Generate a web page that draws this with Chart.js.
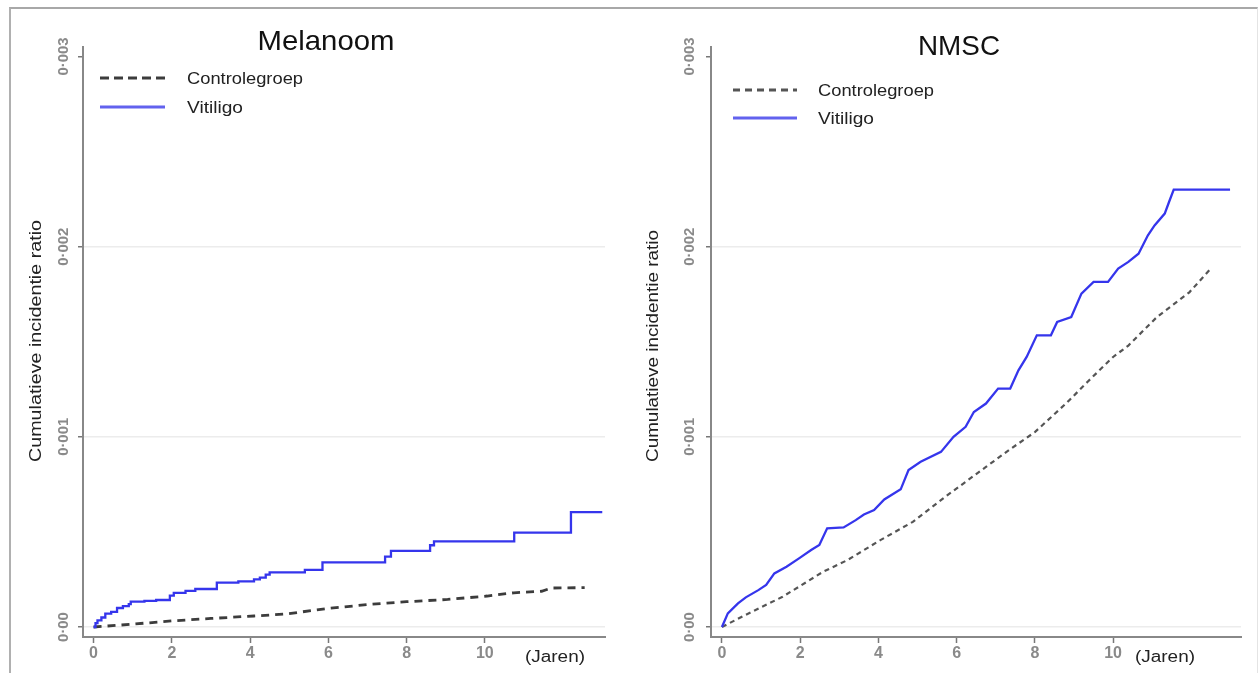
<!DOCTYPE html>
<html>
<head>
<meta charset="utf-8">
<script src="https://cdn.jsdelivr.net/npm/chart.js@4/dist/chart.umd.min.js"></script>
<style>
  html, body { margin: 0; padding: 0; background: #fff; }
  body { width: 1258px; height: 673px; position: relative; overflow: hidden; }
  #frame { position: absolute; left: 9px; top: 7px; width: 1246px; height: 680px;
           border-top: 2px solid #a8a8a8; border-left: 2px solid #b0b0b0; border-right: 1px solid #e4e4e4; }
  canvas { position: absolute; top: 0; }
  #c1 { left: 0; }
  #c2 { left: 629px; }
</style>
</head>
<body>
<div id="frame"></div>
<canvas id="c1" width="629" height="673"></canvas>
<canvas id="c2" width="629" height="673"></canvas>
<script>
// ---------------- data ----------------
const panelTitles = ["Melanoom", "NMSC"];
const seriesNames = ["Controlegroep", "Vitiligo"];
const xTickValues = [0, 2, 4, 6, 8, 10];
const xTickLabels = ["0", "2", "4", "6", "8", "10"];
const yTickValues = [0, 0.001, 0.002, 0.003];
const yTickLabels = ["0\u00B700", "0\u00B7001", "0\u00B7002", "0\u00B7003"];
const xUnitLabel = "(Jaren)";
const yAxisTitle = "Cumulatieve incidentie ratio";

// Melanoom - Vitiligo (step function)
const melVitX = [0, 0.05, 0.1, 0.2, 0.3, 0.45, 0.6, 0.75, 0.9, 0.95, 1.3, 1.6, 1.95, 2.05, 2.35, 2.6, 3.15, 3.7, 4.1, 4.25, 4.4, 4.5, 5.4, 5.85, 7.45, 7.6, 8.6, 8.7, 10.75, 12.2, 13.0];
const melVitY = [0, 0.00002, 0.000035, 0.00005, 0.00007, 0.00008, 0.0001, 0.00011, 0.00012, 0.000133, 0.000137, 0.000142, 0.000165, 0.00018, 0.00019, 0.0002, 0.000233, 0.00024, 0.00025, 0.00026, 0.000275, 0.000287, 0.0003, 0.00034, 0.00037, 0.0004, 0.00043, 0.00045, 0.000496, 0.000604, 0.000604];
// Melanoom - Controlegroep
const melCtrlX = [0, 1, 2.05, 3, 4.1, 4.9, 6, 7, 8, 9.05, 10.06, 10.74, 11.45, 11.7, 12.55];
const melCtrlY = [0, 0.000015, 0.000033, 0.000045, 0.000058, 0.000068, 0.000098, 0.000118, 0.000133, 0.000145, 0.000163, 0.00018, 0.000188, 0.000205, 0.000207];
// NMSC - Vitiligo
const nmscVitX = [0, 0.15, 0.41, 0.61, 0.93, 1.13, 1.34, 1.65, 1.97, 2.28, 2.49, 2.69, 3.11, 3.42, 3.63, 3.89, 4.15, 4.57, 4.77, 5.08, 5.6, 5.92, 6.23, 6.44, 6.75, 7.06, 7.37, 7.58, 7.79, 8.05, 8.41, 8.57, 8.93, 9.19, 9.5, 9.87, 10.13, 10.39, 10.65, 10.89, 11.06, 11.32, 11.43, 11.55, 12.99];
const nmscVitY = [0, 0.000072, 0.000124, 0.000156, 0.000194, 0.000221, 0.000282, 0.000317, 0.000361, 0.000405, 0.000431, 0.000519, 0.000524, 0.000562, 0.000592, 0.000615, 0.000671, 0.000724, 0.000825, 0.000869, 0.000921, 0.001, 0.001053, 0.001131, 0.001175, 0.001254, 0.001254, 0.00135, 0.00142, 0.001534, 0.001534, 0.001604, 0.00163, 0.001753, 0.001815, 0.001815, 0.001885, 0.00192, 0.001963, 0.00206, 0.002112, 0.002174, 0.002235, 0.0023, 0.0023];
// NMSC - Controlegroep
const nmscCtrlX = [0, 0.51, 1.55, 2.59, 3.21, 4.05, 4.88, 5.71, 6.75, 7.37, 8.0, 8.82, 9.35, 10.0, 10.39, 11.12, 11.95, 12.52];
const nmscCtrlY = [0, 0.000054, 0.000159, 0.000291, 0.000352, 0.000457, 0.000553, 0.000685, 0.000842, 0.000935, 0.001025, 0.00118, 0.00129, 0.00142, 0.00148, 0.00163, 0.00176, 0.00189];

// ---------------- helpers ----------------
const FONT = "'Liberation Sans', Arial, sans-serif";
function pts(xs, ys) { return xs.map((x, i) => ({ x: x, y: ys[i] })); }

function fitText(ctx, text, x, y, size, targetW, align, baseline, color, rot, weight) {
  ctx.save();
  ctx.font = (weight || "") + " " + size + "px " + FONT;
  const w = ctx.measureText(text).width;
  const s = targetW / w;
  ctx.translate(x, y);
  if (rot) ctx.rotate(rot);
  ctx.scale(s, 1);
  ctx.textAlign = align;
  ctx.textBaseline = baseline;
  ctx.fillStyle = color;
  ctx.fillText(text, 0, 0);
  ctx.restore();
}

function makePanel(canvasId, L) {
  const decor = {
    id: "decor" + canvasId,
    afterDraw(chart) {
      const ctx = chart.ctx;
      const ys = chart.scales.y;
      // title
      fitText(ctx, L.title, L.titleX, L.titleBase, 28, L.titleW, "center", "alphabetic", "#111");
      // legend
      ctx.save();
      ctx.strokeStyle = L.ctrlColor; ctx.lineWidth = 3; ctx.setLineDash(L.legDash);
      ctx.beginPath(); ctx.moveTo(L.legX0, L.legY1); ctx.lineTo(L.legX1, L.legY1); ctx.stroke();
      ctx.setLineDash([]); ctx.strokeStyle = "#6262ee"; ctx.lineWidth = 3;
      ctx.beginPath(); ctx.moveTo(L.legX0, L.legY2); ctx.lineTo(L.legX1, L.legY2); ctx.stroke();
      ctx.restore();
      fitText(ctx, seriesNames[0], L.legTX, L.legB1, 17, 116, "left", "alphabetic", "#222");
      fitText(ctx, seriesNames[1], L.legTX, L.legB2, 17, 56, "left", "alphabetic", "#222");
      // y tick labels (rotated)
      ctx.save();
      ctx.font = "bold 15px " + FONT;
      const ref = ctx.measureText(yTickLabels[3]).width;
      const widths = yTickLabels.map(t => ctx.measureText(t).width);
      ctx.restore();
      yTickValues.forEach((v, i) => {
        const py = ys.getPixelForValue(v);
        fitText(ctx, yTickLabels[i], L.yLabX, py, 15, 38 * widths[i] / ref, "center", "middle", "#8a8a8a", -Math.PI / 2, "bold");
      });
      // y axis title
      fitText(ctx, yAxisTitle, L.yTitleX, L.yTitleY, 16, L.yTitleW, "center", "middle", "#222", -Math.PI / 2);
      // unit label
      fitText(ctx, xUnitLabel, L.unitX, L.unitBase, 16, 60, "left", "alphabetic", "#222");
    }
  };

  return new Chart(document.getElementById(canvasId), {
    type: "line",
    data: {
      datasets: [
        { label: seriesNames[0], data: pts(L.ctrlX, L.ctrlY), borderColor: L.ctrlColor, borderWidth: L.ctrlWidth,
          borderDash: L.dash, pointRadius: 0, fill: false, tension: 0, order: 2 },
        { label: seriesNames[1], data: pts(L.vitX, L.vitY), borderColor: "#3535ec", borderWidth: 2.3,
          stepped: L.stepped, pointRadius: 0, fill: false, tension: 0, order: 1 }
      ]
    },
    options: {
      responsive: false, animation: false, events: [],
      layout: { padding: { left: 10, right: L.padRight, top: 47, bottom: 0 } },
      plugins: { legend: { display: false }, tooltip: { enabled: false }, title: { display: false } },
      scales: {
        x: {
          type: "linear", min: L.xMin, max: L.xMax,
          afterBuildTicks: s => { s.ticks = xTickValues.map(v => ({ value: v })); },
          afterFit: s => { s.height = 36; },
          ticks: { callback: (v) => { const i = xTickValues.indexOf(v); return i >= 0 ? xTickLabels[i] : ""; },
                   font: { family: FONT, size: 16, weight: "bold" }, color: "#8a8a8a", padding: 1, maxRotation: 0, autoSkip: false },
          grid: { drawOnChartArea: false, drawTicks: true, tickLength: 6, tickColor: "#777", tickWidth: 1.5 },
          border: { display: true, color: "#888", width: 2 }
        },
        y: {
          type: "linear", min: -0.0000525, max: 0.00305,
          afterBuildTicks: s => { s.ticks = yTickValues.map(v => ({ value: v })); },
          afterFit: s => { s.width = L.yWidth; },
          ticks: { display: false },
          grid: { color: c => (c.tick && c.tick.value === 0.003) ? "rgba(0,0,0,0)" : "#ececec",
                  lineWidth: 1.5, drawTicks: true, tickLength: 5, tickColor: "#777", tickWidth: 1.5 },
          border: { display: true, color: "#888", width: 2 }
        }
      }
    },
    plugins: [decor]
  });
}

makePanel("c1", {
  title: panelTitles[0], titleX: 326, titleBase: 50, titleW: 137,
  ctrlX: melCtrlX, ctrlY: melCtrlY, vitX: melVitX, vitY: melVitY, stepped: "before",
  ctrlColor: "#3c3c3c", ctrlWidth: 2.8, dash: [8, 6], legDash: [9, 5],
  legX0: 100, legX1: 165, legY1: 78, legY2: 107, legTX: 187, legB1: 84, legB2: 113,
  yLabX: 64, yTitleX: 37, yTitleY: 341, yTitleW: 242,
  unitX: 525, unitBase: 662,
  xMin: -0.27, xMax: 13.07, padRight: 24, yWidth: 73
});

makePanel("c2", {
  title: panelTitles[1], titleX: 959 - 629, titleBase: 55, titleW: 82,
  ctrlX: nmscCtrlX, ctrlY: nmscCtrlY, vitX: nmscVitX, vitY: nmscVitY, stepped: false,
  ctrlColor: "#555555", ctrlWidth: 2.2, dash: [5, 4], legDash: [7, 5],
  legX0: 733 - 629, legX1: 797 - 629, legY1: 90, legY2: 118, legTX: 818 - 629, legB1: 96, legB2: 124,
  yLabX: 690 - 629, yTitleX: 654 - 629, yTitleY: 346, yTitleW: 232,
  unitX: 1135 - 629, unitBase: 662,
  xMin: -0.28, xMax: 13.27, padRight: 17, yWidth: 72
});
</script>
</body>
</html>
